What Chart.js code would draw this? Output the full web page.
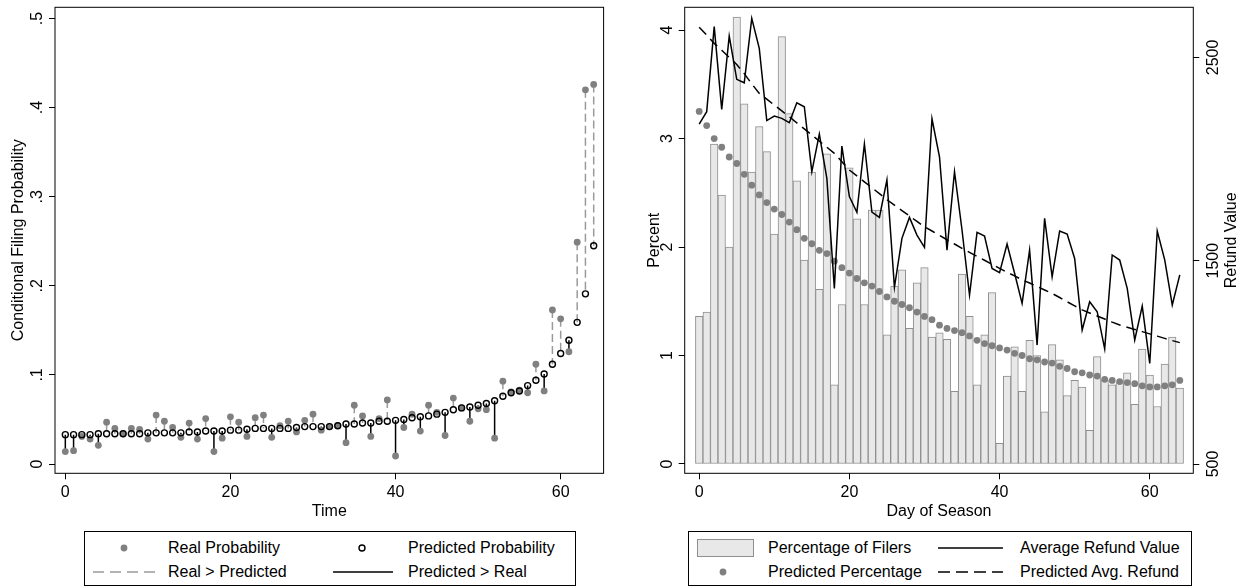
<!DOCTYPE html>
<html>
<head>
<meta charset="utf-8">
<title>Filing probability and refunds</title>
<script src="https://cdn.jsdelivr.net/npm/chart.js@4.4.1/dist/chart.umd.min.js"></script>
<style>
  body { margin: 0; background: #fff; font-family: "Liberation Sans", Arial, Helvetica, sans-serif; }
  #page { position: relative; width: 1245px; height: 588px; overflow: hidden; background: #fff; }
  #leftChart { position: absolute; left: 0; top: 0; }
  #rightChart { position: absolute; left: 620px; top: 0; }
  .legend { position: absolute; top: 531px; height: 55px; border: 1px solid #000; box-sizing: border-box; }
  .legend span { position: absolute; font-size: 16px; line-height: 18px; white-space: nowrap; color: #000; }
  .legend svg { position: absolute; left: 0; top: 0; }
</style>
</head>
<body>
<div id="page">
  <canvas id="leftChart" width="620" height="530"></canvas>
  <canvas id="rightChart" width="625" height="530"></canvas>

  <div class="legend" style="left:84px; width:492px;">
    <svg width="492" height="55">
      <circle cx="39" cy="16" r="3.4" fill="#808080"/>
      <circle cx="277" cy="16" r="3" fill="none" stroke="#000" stroke-width="1.4"/>
      <line x1="8" y1="40" x2="70" y2="40" stroke="#9a9a9a" stroke-width="1.5" stroke-dasharray="11 6"/>
      <line x1="248" y1="40" x2="308" y2="40" stroke="#000" stroke-width="1.5"/>
    </svg>
    <span style="left:83px; top:7px;">Real Probability</span>
    <span style="left:323px; top:7px;">Predicted Probability</span>
    <span style="left:83px; top:31px;">Real &gt; Predicted</span>
    <span style="left:323px; top:31px;">Predicted &gt; Real</span>
  </div>

  <div class="legend" style="left:688px; width:504px;">
    <svg width="504" height="55">
      <rect x="8.5" y="7.5" width="56" height="17" fill="#e8e8e8" stroke="#8f8f8f" stroke-width="1"/>
      <line x1="249" y1="16" x2="314" y2="16" stroke="#000" stroke-width="1.5"/>
      <circle cx="34" cy="40" r="3.4" fill="#808080"/>
      <line x1="249" y1="40" x2="314" y2="40" stroke="#000" stroke-width="1.5" stroke-dasharray="12 6"/>
    </svg>
    <span style="left:79px; top:7px;">Percentage of Filers</span>
    <span style="left:331px; top:7px;">Average Refund Value</span>
    <span style="left:79px; top:31px;">Predicted Percentage</span>
    <span style="left:331px; top:31px;">Predicted Avg. Refund</span>
  </div>
</div>

<script>
// ---- left panel data: conditional filing probability by time ----
const timeIdx = [];
for (let i = 0; i <= 64; i++) timeIdx.push(i);

const realProb = [
  0.014, 0.015, 0.031, 0.028, 0.021, 0.047, 0.040, 0.034, 0.040, 0.039,
  0.028, 0.055, 0.048, 0.041, 0.030, 0.046, 0.028, 0.051, 0.014, 0.029,
  0.053, 0.047, 0.031, 0.052, 0.055, 0.030, 0.043, 0.048, 0.036, 0.049,
  0.056, 0.038, 0.042, 0.043, 0.024, 0.066, 0.054, 0.031, 0.051, 0.072,
  0.009, 0.041, 0.056, 0.037, 0.066, 0.058, 0.032, 0.074, 0.063, 0.048,
  0.062, 0.061, 0.029, 0.093, 0.081, 0.083, 0.080, 0.112, 0.082, 0.173,
  0.163, 0.126, 0.249, 0.420, 0.426
];

const predictedProb = [
  0.033, 0.033, 0.033, 0.033, 0.034, 0.034, 0.034, 0.034, 0.034, 0.034,
  0.035, 0.035, 0.035, 0.035, 0.035, 0.036, 0.036, 0.037, 0.037, 0.037,
  0.038, 0.038, 0.039, 0.040, 0.040, 0.040, 0.040, 0.040, 0.041, 0.042,
  0.042, 0.042, 0.042, 0.043, 0.045, 0.045, 0.046, 0.046, 0.048, 0.048,
  0.049, 0.050, 0.052, 0.053, 0.054, 0.056, 0.058, 0.061, 0.063, 0.064,
  0.066, 0.068, 0.071, 0.076, 0.080, 0.082, 0.088, 0.094, 0.101, 0.112,
  0.124, 0.139, 0.159, 0.191, 0.245
];

const timeTicks = [0, 20, 40, 60];
const probTicks = [0, 0.1, 0.2, 0.3, 0.4, 0.5];
const probTickLabels = ['0', '.1', '.2', '.3', '.4', '.5'];

// ---- right panel data: filers and refunds by day of season ----
const seasonDays = [];
for (let d = 0; d <= 64; d++) seasonDays.push(d);

const pctFilers = [
  1.36, 1.40, 2.95, 2.48, 2.00, 4.12, 3.32, 2.69, 3.11, 2.88,
  2.12, 3.94, 3.23, 2.61, 1.88, 2.69, 1.61, 2.86, 0.73, 1.47,
  2.73, 2.26, 1.47, 2.34, 2.34, 1.19, 1.64, 1.79, 1.25, 1.67,
  1.81, 1.17, 1.21, 1.15, 0.67, 1.75, 1.36, 0.73, 1.19, 1.58,
  0.19, 0.81, 1.08, 0.67, 1.14, 1.00, 0.48, 1.10, 0.96, 0.63,
  0.77, 0.71, 0.31, 0.99, 0.77, 0.73, 0.75, 0.84, 0.55, 1.06,
  0.82, 0.53, 0.92, 1.17, 0.70
];

const predictedPct = [
  3.25, 3.12, 3.00, 2.92, 2.83, 2.77, 2.67, 2.57, 2.48, 2.41,
  2.35, 2.30, 2.23, 2.16, 2.08, 2.03, 1.97, 1.94, 1.87, 1.81,
  1.76, 1.71, 1.67, 1.64, 1.59, 1.54, 1.50, 1.47, 1.44, 1.40,
  1.36, 1.33, 1.28, 1.25, 1.23, 1.21, 1.18, 1.14, 1.11, 1.09,
  1.07, 1.05, 1.02, 1.00, 0.97, 0.96, 0.94, 0.93, 0.90, 0.88,
  0.85, 0.84, 0.82, 0.81, 0.78, 0.77, 0.76, 0.75, 0.74, 0.72,
  0.71, 0.71, 0.72, 0.73, 0.77
];

const avgRefund = [
  2172, 2233, 2651, 2244, 2605, 2392, 2375, 2692, 2544, 2189,
  2211, 2200, 2179, 2277, 2257, 1938, 2123, 1905, 1364, 2064,
  1815, 1738, 2074, 1739, 1713, 1897, 1369, 1610, 1713, 1626,
  1566, 2198, 2011, 1552, 1938, 1651, 1331, 1639, 1621, 1462,
  1441, 1582, 1438, 1290, 1552, 1085, 1708, 1421, 1646, 1631,
  1511, 1159, 1298, 1249, 1066, 1528, 1503, 1364, 1110, 1277,
  995, 1646, 1503, 1282, 1430
];

const predictedRefund = [
  2648, 2610, 2569, 2535, 2500, 2465, 2420, 2370, 2323, 2295,
  2265, 2237, 2208, 2178, 2148, 2118, 2088, 2058, 2028, 1987,
  1946, 1917, 1888, 1859, 1830, 1800, 1773, 1746, 1720, 1693,
  1667, 1646, 1625, 1603, 1582, 1561, 1541, 1521, 1502, 1482,
  1462, 1443, 1425, 1406, 1390, 1373, 1356, 1339, 1319, 1298,
  1278, 1258, 1243, 1228, 1213, 1198, 1184, 1173, 1162, 1151,
  1140, 1129, 1118, 1107, 1097
];

const dayTicks = [0, 20, 40, 60];
const pctTicks = [0, 1, 2, 3, 4];
const pctTickLabels = ['0', '1', '2', '3', '4'];
const refundTicks = [500, 1500, 2500];
const refundTickLabels = ['500', '1500', '2500'];

Chart.defaults.font.family = '"Liberation Sans", Arial, Helvetica, sans-serif';
Chart.defaults.font.size = 16;
Chart.defaults.color = '#000';

// box around the plot region, like Stata draws it
const framePlugin = {
  id: 'frame',
  afterDraw(chart) {
    const a = chart.chartArea;
    const ctx = chart.ctx;
    ctx.save();
    ctx.strokeStyle = '#000';
    ctx.lineWidth = 1;
    ctx.strokeRect(a.left, a.top, a.right - a.left, a.bottom - a.top);
    ctx.restore();
  }
};

// y tick labels and titles are rotated (reading bottom to top)
const yLabelPlugin = {
  id: 'yLabels',
  afterDraw(chart, args, opts) {
    const ctx = chart.ctx;
    const area = chart.chartArea;
    (opts.axes || []).forEach(function (a) {
      const scale = chart.scales[a.id];
      ctx.save();
      ctx.fillStyle = '#000';
      ctx.font = '16px "Liberation Sans", Arial, sans-serif';
      ctx.textAlign = 'center';
      ctx.textBaseline = a.side === 'left' ? 'bottom' : 'top';
      scale.ticks.forEach(function (t, k) {
        ctx.save();
        ctx.translate(a.labelX, scale.getPixelForValue(t.value));
        ctx.rotate(-Math.PI / 2);
        ctx.fillText(a.labels[k], 0, 0);
        ctx.restore();
      });
      ctx.textBaseline = 'middle';
      ctx.translate(a.titleX, (area.top + area.bottom) / 2);
      ctx.rotate(-Math.PI / 2);
      ctx.fillText(a.title, 0, 0);
      ctx.restore();
    });
  }
};

function fixedTicks(values) {
  return function (scale) { scale.ticks = values.map(v => ({ value: v })); };
}

const tickGrid = { drawOnChartArea: false, drawTicks: true, tickLength: 6, color: '#000', lineWidth: 1 };

// ---------------- left chart ----------------
const realPts = timeIdx.map((t, i) => ({ x: t, y: realProb[i] }));
const predPts = timeIdx.map((t, i) => ({ x: t, y: predictedProb[i] }));
const stemsUp = [];
const stemsDown = [];
timeIdx.forEach((t, i) => {
  if (realProb[i] > predictedProb[i]) {
    stemsUp.push({ x: t, y: realProb[i] }, { x: t, y: predictedProb[i] }, { x: t, y: null });
  } else {
    stemsDown.push({ x: t, y: predictedProb[i] }, { x: t, y: realProb[i] }, { x: t, y: null });
  }
});

new Chart(document.getElementById('leftChart'), {
  type: 'scatter',
  data: {
    datasets: [
      {
        label: 'Predicted Probability', data: predPts,
        pointRadius: 3, pointBorderWidth: 1.4,
        pointBorderColor: '#000', pointBackgroundColor: 'rgba(255,255,255,0)'
      },
      {
        label: 'Real Probability', data: realPts,
        pointRadius: 3.4, pointBorderWidth: 0,
        pointBorderColor: '#808080', pointBackgroundColor: '#808080'
      },
      {
        label: 'Real > Predicted', data: stemsUp, showLine: true, spanGaps: false,
        borderColor: '#9a9a9a', borderWidth: 1.5, borderDash: [8, 4], pointRadius: 0
      },
      {
        label: 'Predicted > Real', data: stemsDown, showLine: true, spanGaps: false,
        borderColor: '#000', borderWidth: 1.5, pointRadius: 0
      }
    ]
  },
  options: {
    responsive: false,
    animation: false,
    events: [],
    layout: { padding: { top: 7.3, right: 16.4, left: 0, bottom: 0 } },
    plugins: {
      legend: { display: false },
      tooltip: { enabled: false },
      yLabels: { axes: [{ id: 'y', side: 'left', labelX: 46, labels: probTickLabels, titleX: 19, title: 'Conditional Filing Probability' }] }
    },
    scales: {
      x: {
        type: 'linear', min: -1.25, max: 65.2,
        afterBuildTicks: fixedTicks(timeTicks),
        afterFit: s => { s.height = 56.7; },
        border: { display: false },
        grid: tickGrid,
        ticks: { padding: 4, maxRotation: 0, autoSkip: false },
        title: { display: true, text: 'Time', padding: { top: 0, bottom: 9 } }
      },
      y: {
        type: 'linear', min: -0.0104, max: 0.5126,
        afterBuildTicks: fixedTicks(probTicks),
        afterFit: s => { s.width = 55; },
        border: { display: false },
        grid: tickGrid,
        ticks: { display: false }
      }
    }
  },
  plugins: [framePlugin, yLabelPlugin]
});

// ---------------- right chart ----------------
new Chart(document.getElementById('rightChart'), {
  type: 'bar',
  data: {
    datasets: [
      {
        type: 'line', label: 'Average Refund Value', yAxisID: 'y1', order: 1,
        data: seasonDays.map((d, i) => ({ x: d, y: avgRefund[i] })),
        borderColor: '#000', borderWidth: 1.5, pointRadius: 0, tension: 0
      },
      {
        type: 'line', label: 'Predicted Avg. Refund', yAxisID: 'y1', order: 2,
        data: seasonDays.map((d, i) => ({ x: d, y: predictedRefund[i] })),
        borderColor: '#000', borderWidth: 1.5, borderDash: [10, 6], pointRadius: 0, tension: 0
      },
      {
        type: 'line', label: 'Predicted Percentage', yAxisID: 'y', order: 3,
        data: seasonDays.map((d, i) => ({ x: d, y: predictedPct[i] })),
        showLine: false, pointRadius: 3.4, pointBorderWidth: 0,
        pointBackgroundColor: '#808080', pointBorderColor: '#808080'
      },
      {
        type: 'bar', label: 'Percentage of Filers', yAxisID: 'y', order: 4,
        data: seasonDays.map((d, i) => ({ x: d, y: pctFilers[i] })),
        backgroundColor: '#e8e8e8', borderColor: '#8f8f8f', borderWidth: 1,
        borderSkipped: false, barPercentage: 1, categoryPercentage: 1
      }
    ]
  },
  options: {
    responsive: false,
    animation: false,
    events: [],
    layout: { padding: { top: 7.3, right: 0, left: 0, bottom: 0 } },
    plugins: {
      legend: { display: false },
      tooltip: { enabled: false },
      yLabels: {
        axes: [
          { id: 'y', side: 'left', labelX: 55.7, labels: pctTickLabels, titleX: 35, title: 'Percent' },
          { id: 'y1', side: 'right', labelX: 585.3, labels: refundTickLabels, titleX: 612, title: 'Refund Value' }
        ]
      }
    },
    scales: {
      x: {
        type: 'linear', min: -1.93, max: 65.8, offset: false,
        afterBuildTicks: fixedTicks(dayTicks),
        afterFit: s => { s.height = 56.7; },
        border: { display: false },
        grid: Object.assign({ offset: false }, tickGrid),
        ticks: { padding: 4, maxRotation: 0, autoSkip: false },
        title: { display: true, text: 'Day of Season', padding: { top: 0, bottom: 9 } }
      },
      y: {
        type: 'linear', position: 'left', min: -0.086, max: 4.21,
        afterBuildTicks: fixedTicks(pctTicks),
        afterFit: s => { s.width = 64.7; },
        border: { display: false },
        grid: tickGrid,
        ticks: { display: false }
      },
      y1: {
        type: 'linear', position: 'right', min: 454.3, max: 2746.3,
        afterBuildTicks: fixedTicks(refundTicks),
        afterFit: s => { s.width = 51.7; },
        border: { display: false },
        grid: tickGrid,
        ticks: { display: false }
      }
    }
  },
  plugins: [framePlugin, yLabelPlugin]
});
</script>
</body>
</html>
